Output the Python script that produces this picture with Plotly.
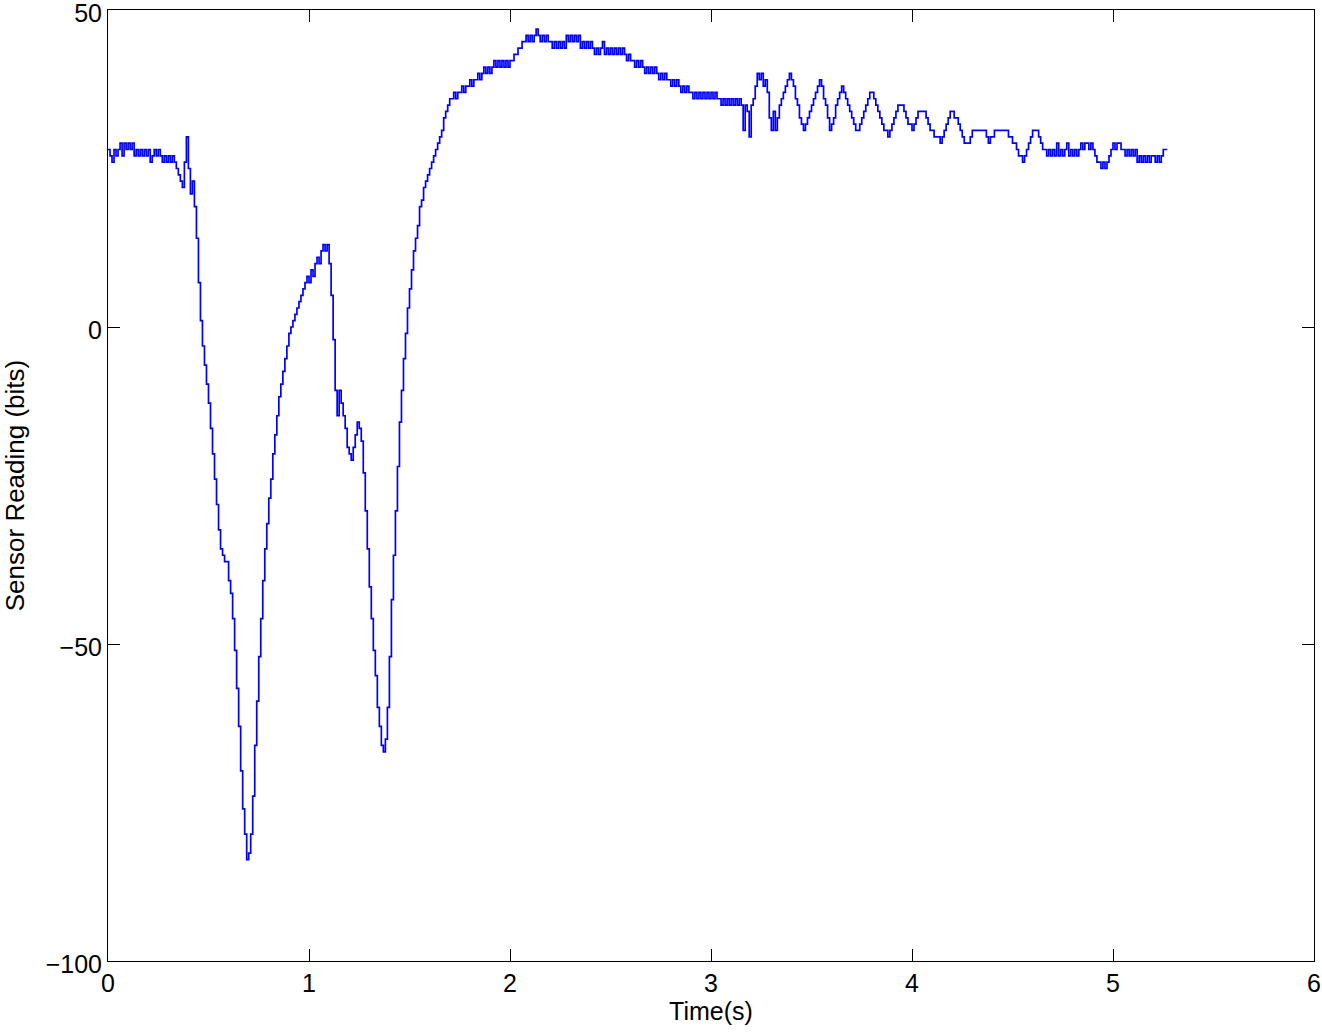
import numpy as np
import plotly.graph_objects as go

# Sampling period of the sensor trace (s)
SAMPLE_PERIOD = 0.01

# Sensor readings (bits), one per sample
sensor_bits = [
    28, 27, 26, 28, 27, 28, 29, 27, 29, 28,
    29, 28, 29, 27, 28, 27, 28, 27, 28, 27,
    28, 26, 27, 28, 27, 28, 27, 26, 27, 26,
    27, 26, 27, 26, 25, 24, 23, 22, 26, 30,
    25, 21, 23, 19, 14, 7, 1, -3, -6, -9,
    -12, -16, -20, -24, -28, -32, -35, -36, -37, -37,
    -40, -42, -46, -51, -57, -63, -70, -76, -80, -84,
    -83, -80, -74, -66, -59, -52, -46, -40, -35, -31,
    -27, -24, -20, -17, -14, -11, -9, -7, -5, -3,
    -1, 0, 1, 2, 3, 4, 5, 6, 7, 8,
    7, 9, 8, 10, 11, 10, 12, 13, 12, 13,
    10, 5, -2, -10, -14, -10, -12, -14, -16, -19,
    -20, -21, -19, -17, -15, -16, -18, -23, -29, -35,
    -41, -46, -51, -55, -60, -63, -66, -67, -65, -60,
    -52, -43, -36, -29, -22, -15, -10, -5, -1, 3,
    6, 9, 12, 14, 16, 19, 20, 22, 23, 24,
    25, 26, 27, 28, 29, 30, 31, 33, 34, 35,
    36, 36, 37, 36, 37, 37, 38, 37, 38, 38,
    39, 38, 39, 39, 40, 39, 40, 41, 40, 41,
    40, 41, 42, 41, 42, 41, 42, 41, 42, 41,
    42, 42, 43, 43, 44, 44, 45, 45, 46, 45,
    46, 45, 46, 47, 46, 45, 46, 45, 46, 45,
    45, 44, 45, 44, 45, 44, 45, 44, 46, 45,
    46, 45, 46, 45, 46, 44, 45, 44, 45, 44,
    45, 44, 43, 44, 43, 44, 45, 43, 44, 43,
    44, 43, 44, 43, 44, 43, 44, 43, 42, 43,
    42, 42, 41, 42, 41, 42, 41, 40, 41, 40,
    41, 40, 41, 40, 39, 40, 39, 40, 39, 39,
    38, 39, 38, 39, 38, 37, 38, 37, 38, 37,
    37, 36, 37, 36, 37, 36, 37, 36, 37, 36,
    37, 36, 37, 36, 36, 35, 36, 35, 36, 35,
    36, 35, 36, 35, 36, 35, 31, 35, 34, 30,
    35, 36, 38, 40, 39, 40, 38, 39, 37, 33,
    31, 34, 31, 33, 35, 36, 37, 38, 39, 40,
    39, 38, 36, 35, 33, 32, 31, 32, 33, 34,
    35, 36, 37, 38, 39, 38, 36, 35, 33, 31,
    32, 33, 35, 36, 37, 38, 37, 36, 35, 34,
    33, 32, 31, 31, 32, 33, 34, 35, 36, 37,
    37, 36, 35, 34, 33, 32, 31, 31, 30, 31,
    32, 33, 34, 35, 35, 35, 34, 33, 32, 32,
    31, 32, 33, 34, 34, 34, 34, 33, 32, 31,
    31, 30, 30, 30, 29, 30, 31, 32, 33, 34,
    34, 33, 33, 32, 31, 30, 29, 29, 29, 30,
    31, 31, 31, 31, 31, 31, 31, 30, 29, 30,
    30, 31, 31, 31, 31, 31, 31, 31, 30, 30,
    29, 29, 28, 27, 27, 26, 27, 28, 29, 30,
    31, 31, 31, 30, 29, 28, 28, 27, 28, 27,
    28, 27, 29, 27, 28, 27, 28, 29, 27, 28,
    27, 28, 27, 28, 29, 28, 29, 29, 28, 29,
    28, 27, 26, 26, 25, 26, 25, 26, 27, 28,
    29, 28, 29, 29, 28, 28, 27, 28, 27, 28,
    27, 28, 26, 27, 26, 27, 26, 27, 26, 27,
    27, 26, 27, 26, 27, 28, 28, 28,
]

x_ticks = [0, 1, 2, 3, 4, 5, 6]
y_ticks = [-100, -50, 0, 50]
x_label = "Time(s)"
y_label = "Sensor Reading (bits)"

time_s = np.arange(len(sensor_bits)) * SAMPLE_PERIOD

FONT = "Liberation Sans, Arial, Helvetica, sans-serif"

fig = go.Figure()
fig.add_trace(go.Scatter(
    x=time_s, y=sensor_bits, mode="lines",
    line=dict(color="#0000FF", width=1.7, shape="hv"),
    showlegend=False, hoverinfo="skip",
))

axis_common = dict(
    showline=True, linecolor="black", linewidth=1,
    mirror="ticks", ticks="inside", ticklen=12, tickwidth=1, tickcolor="black",
    showgrid=False, zeroline=False, automargin=False,
    ticklabeloverflow="allow",
    tickfont=dict(family=FONT, size=25, color="black"),
)

fig.update_layout(
    width=1322, height=1033,
    margin=dict(l=108, r=8, t=10, b=72),
    paper_bgcolor="white", plot_bgcolor="white",
    font=dict(family=FONT, size=25, color="black"),
    xaxis=dict(range=[0, 6], tickmode="array", tickvals=x_ticks,
               title=dict(text=x_label, font=dict(family=FONT, size=25), standoff=6),
               **axis_common),
    yaxis=dict(range=[-100, 50], tickmode="array", tickvals=y_ticks,
               ticklabelshift=3,
               title=dict(text=y_label, font=dict(family=FONT, size=26), standoff=24),
               **axis_common),
)

fig.write_html(
    "out.html",
    config={"displayModeBar": False},
    post_script="document.body.style.margin='0';document.body.style.overflow='hidden';",
)
